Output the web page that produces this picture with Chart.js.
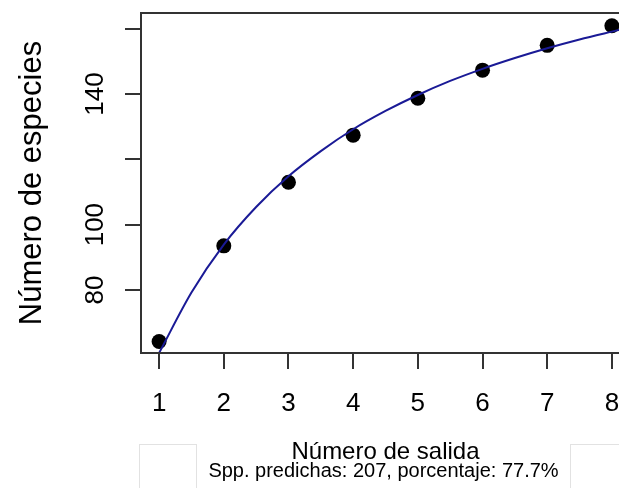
<!DOCTYPE html>
<html>
<head>
<meta charset="utf-8">
<script src="https://cdn.jsdelivr.net/npm/chart.js@4/dist/chart.umd.min.js"></script>
<style>
  html, body { margin: 0; padding: 0; background: #fff; overflow: hidden; }
  #wrap { width: 650px; height: 488px; }
</style>
</head>
<body>
<div id="wrap"><canvas id="chart-especies" width="650" height="488"></canvas></div>
<script>
const salida = [1, 2, 3, 4, 5, 6, 7, 8];
const especies = [64.2, 93.5, 113.0, 127.4, 138.7, 147.3, 154.9, 160.9];

// fitted curve
const curveX = [1, 1.5, 2, 2.5, 3, 3.5, 4, 4.5, 5, 5.5, 6, 6.5, 7, 7.5, 8, 8.3];
const curveY = [60.7, 79.2, 93.9, 105.4, 114.8, 122.5, 129.2, 134.8, 139.7, 144.0, 147.7, 151.0, 154.0, 156.7, 159.1, 160.5];

const xTickValues = [1, 2, 3, 4, 5, 6, 7, 8];
const yTickValues = [80, 100, 120, 140, 160];
const yTickLabels = ['80', '100', '', '140', ''];

const xTitle = 'Número de salida';
const yTitle = 'Número de especies';
const subTitle = 'Spp. predichas: 207, porcentaje: 77.7%';

const FONT = '"Liberation Sans", Arial, Helvetica, sans-serif';
const AXIS = '#333';

const frame = {
    id: 'frame',
    beforeDraw(chart) {
        const ctx = chart.ctx;
        ctx.save();
        ctx.fillStyle = '#fff';
        ctx.fillRect(0, 0, chart.width, chart.height);
        // faint boxes at the bottom of the picture
        ctx.strokeStyle = '#e2e2e2';
        ctx.lineWidth = 1;
        ctx.strokeRect(139.5, 444.5, 57, 60);
        ctx.strokeRect(570.5, 444.5, 80, 60);
        ctx.restore();
    },
    afterDraw(chart) {
        const a = chart.chartArea;
        const ctx = chart.ctx;
        ctx.save();
        ctx.strokeStyle = AXIS;
        ctx.lineWidth = 2;
        ctx.strokeRect(a.left, a.top, a.right - a.left, a.bottom - a.top);
        ctx.fillStyle = '#000';
        ctx.font = '20px ' + FONT;
        ctx.textAlign = 'center';
        ctx.textBaseline = 'alphabetic';
        ctx.fillText(subTitle, (a.left + a.right) / 2 - 2, 477);
        ctx.restore();
    }
};

function noPad(s) {
    s.paddingTop = 0;
    s.paddingBottom = 0;
    s.paddingLeft = 0;
    s.paddingRight = 0;
}

new Chart(document.getElementById('chart-especies'), {
    type: 'scatter',
    data: {
        datasets: [{
            label: 'ajuste',
            data: curveX.map((x, i) => ({x: x, y: curveY[i]})),
            showLine: true,
            borderColor: '#1a1a96',
            borderWidth: 2,
            pointRadius: 0,
            cubicInterpolationMode: 'monotone'
        }, {
            label: 'observado',
            data: salida.map((x, i) => ({x: x, y: especies[i]})),
            backgroundColor: '#000',
            borderWidth: 0,
            pointRadius: 7.5
        }]
    },
    options: {
        responsive: false,
        animation: false,
        devicePixelRatio: 1,
        layout: { padding: { left: 0, right: 20, top: 13, bottom: 0 } },
        plugins: {
            legend: { display: false },
            tooltip: { enabled: false }
        },
        scales: {
            x: {
                type: 'linear',
                min: 0.72,
                max: 8.28,
                afterFit: (s) => { s.height = 135; noPad(s); },
                afterBuildTicks: (s) => { s.ticks = xTickValues.map(v => ({value: v})); },
                border: { display: false },
                grid: { drawOnChartArea: false, drawTicks: true, tickLength: 16, color: AXIS, lineWidth: 2 },
                ticks: {
                    autoSkip: false,
                    maxRotation: 0,
                    padding: 19,
                    color: '#000',
                    font: { family: FONT, size: 26 }
                },
                title: {
                    display: true,
                    text: xTitle,
                    color: '#000',
                    font: { family: FONT, size: 24 },
                    padding: { top: 0, bottom: 21 }
                }
            },
            y: {
                type: 'linear',
                min: 60.7,
                max: 164.8,
                afterFit: (s) => { s.width = 141; noPad(s); },
                afterBuildTicks: (s) => { s.ticks = yTickValues.map(v => ({value: v})); },
                border: { display: false },
                grid: { drawOnChartArea: false, drawTicks: true, tickLength: 16, color: AXIS, lineWidth: 2 },
                ticks: {
                    autoSkip: false,
                    minRotation: 90,
                    maxRotation: 90,
                    crossAlign: 'center',
                    padding: 7,
                    color: '#000',
                    font: { family: FONT, size: 26 },
                    callback: (v) => yTickLabels[yTickValues.indexOf(v)]
                },
                title: {
                    display: true,
                    text: yTitle,
                    color: '#000',
                    font: { family: FONT, size: 31 },
                    padding: { top: 14, bottom: 0 }
                }
            }
        }
    },
    plugins: [frame]
});
</script>
</body>
</html>
